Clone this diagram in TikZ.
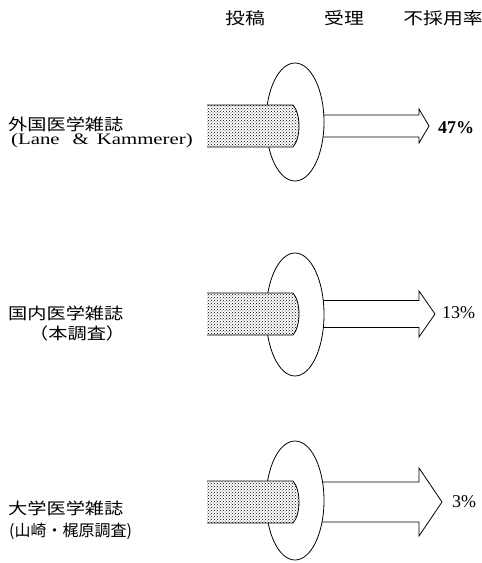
\documentclass[tikz,border=0pt]{standalone}
\usepackage{fontspec}
\setmainfont{Liberation Serif}
\newfontfamily\jp[FakeStretch=1.2]{Noto Sans CJK JP}
\newfontfamily\jpn{Noto Sans CJK JP}
\newfontfamily\lat[FakeStretch=1.3]{Liberation Serif}
\newfontfamily\latp{Liberation Serif}
\usetikzlibrary{patterns}
\tikzset{
  outl/.style={line width=0.8pt, draw=black},
  lbl/.style={inner sep=0pt, anchor=base west},
  hdr/.style={inner sep=0pt, anchor=base, font=\jp\fontsize{16.5}{18}\selectfont},
  cjk/.style={lbl, font=\jp\fontsize{16}{18}\selectfont},
  cjkn/.style={lbl, font=\jpn\fontsize{16}{18}\selectfont},
  latl/.style={lbl, font=\lat\fontsize{16}{18}\selectfont},
  pct/.style={lbl, font=\latp\fontsize{18}{20}\selectfont},
  dotbar/.style={pattern=crosshatch dots, pattern color=black},
}
% #1 bar/arrow centre y, #2 ellipse centre y, #3 ellipse y radius,
% #4 shaft half height, #5 head half height, #6 tip x
\newcommand\myflow[6]{%
  \draw[outl, fill=white] (295,#1-#4) -- (419,#1-#4) -- (419,#1-#5) -- (#6,#1)
    -- (419,#1+#5) -- (419,#1+#4) -- (295,#1+#4);
  \draw[outl, fill=white] (295,#2) ellipse [x radius=29, y radius=#3];
  \fill[white] (207,#1-21) -- (293,#1-21) .. controls (301,#1-12) and (301,#1+12) .. (293,#1+21) -- (207,#1+21) -- cycle;
  \fill[dotbar] (207,#1-21) -- (293,#1-21) .. controls (301,#1-12) and (301,#1+12) .. (293,#1+21) -- (207,#1+21) -- cycle;
  \draw[outl] (207,#1-21) -- (293,#1-21) .. controls (301,#1-12) and (301,#1+12) .. (293,#1+21) -- (207,#1+21);
}
\begin{document}
\begin{tikzpicture}[x=1pt, y=-1pt]
  \path[use as bounding box] (0,0) rectangle (482,563);

  % headers
  \node[hdr] (h1) at (245,24) {投稿};
  \node[hdr] (h2) at (344,24) {受理};
  \node[hdr] (h3) at (443,24) {不採用率};

  % panels
  \myflow{126}{122}{59}{11}{17}{429}
  \myflow{314}{314.5}{61.5}{13.5}{23}{435}
  \myflow{502}{500.5}{59.5}{20}{34}{442}

  % left labels
  \node[cjk] (l1a) at (8,130) {外国医学雑誌};
  \node[latl] (l1b) at (11,144) {(Lane\hspace{13pt}\&\hspace{8pt}Kammerer)};

  \node[cjk] (l2a) at (8,319) {国内医学雑誌};
  \node[cjk] (l2b) at (29,339) {（本調査）};

  \node[cjk] (l3a) at (8,514) {大学医学雑誌};
  \node[cjkn] (l3b) at (9,536) {(山崎・梶原調査)};

  % percentages
  \node[pct, font=\latp\bfseries\fontsize{18}{20}\selectfont] (p1) at (438,133) {47\%};
  \node[pct] (p2) at (442,318) {13\%};
  \node[pct] (p3) at (452,507) {3\%};
\end{tikzpicture}
\end{document}
